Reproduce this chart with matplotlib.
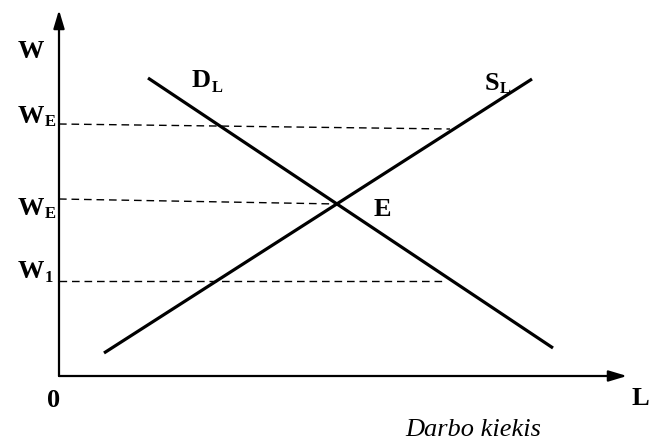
import matplotlib
matplotlib.use("Agg")
import matplotlib.pyplot as plt

# darbo rinkos schema: L - darbo kiekis, W - darbo kaina
# duomenys (schemos vienetai, 0 = asiu susikirtimas)
paklausa_L = [89, 494]
paklausa_W = [298, 28]
pasiula_L = [45, 473]
pasiula_W = [23, 297]

# punktyrai nuo W asies iki kreiviu
virsutine_L = [0, 391]
virsutine_W = [252, 247]
pusiausvyra_L = [0, 278]
pusiausvyra_W = [177, 172]
apatine_L = [0, 386]
apatine_W = [95, 95]

asis_L_max = 568
asis_W_max = 366

fig = plt.figure(figsize=(6.49, 4.41), dpi=100)
ax = fig.add_axes([0, 0, 1, 1])
ax.set_xlim(-59, 590)
ax.set_ylim(-65, 376)
ax.axis("off")

serif = "Liberation Serif"

# asys su rodyklemis
strele = dict(arrowstyle="-|>,head_length=1.1,head_width=0.33", lw=1.6,
              color="black", mutation_scale=10, shrinkA=0, shrinkB=0)
ax.annotate("", xy=(0, asis_W_max), xytext=(0, 0), arrowprops=strele)
ax.annotate("", xy=(asis_L_max, 0), xytext=(0, 0), arrowprops=strele)

# kreives
ax.plot(paklausa_L, paklausa_W, color="black", lw=2.3, solid_capstyle="butt")
ax.plot(pasiula_L, pasiula_W, color="black", lw=2.3, solid_capstyle="butt")

# punktyrai
for xs, ys in [(virsutine_L, virsutine_W), (pusiausvyra_L, pusiausvyra_W),
               (apatine_L, apatine_W)]:
    ax.plot(xs, ys, color="black", lw=1.0, linestyle=(0, (5.5, 3.5)))

fs = 19
sub = 12


def zyme(x, y, tekstas, apacia=None, dx=0, dy=0):
    t = ax.text(x, y, tekstas, fontsize=fs, fontweight="bold", family=serif,
                ha="left", va="baseline")
    if apacia is not None:
        ax.text(x + dx, y - dy, apacia, fontsize=sub, fontweight="bold",
                family=serif, ha="left", va="baseline")
    return t


zyme(-41, 318, "W")
zyme(-41, 253, "W", "E", dx=27, dy=3)
zyme(-41, 161, "W", "E", dx=27, dy=3)
zyme(-41, 98, "W", "1", dx=27, dy=4)
zyme(133, 289, "D", "L", dx=20, dy=5)
zyme(426, 286, "S", "L", dx=15, dy=3)
zyme(315, 160, "E")
zyme(-12, -31, "0")
zyme(572, -29, "L")

ax.text(346, -60, "Darbo kiekis", fontsize=fs, fontstyle="italic",
        family=serif, ha="left", va="baseline")

fig.savefig("out.png", dpi=100)
